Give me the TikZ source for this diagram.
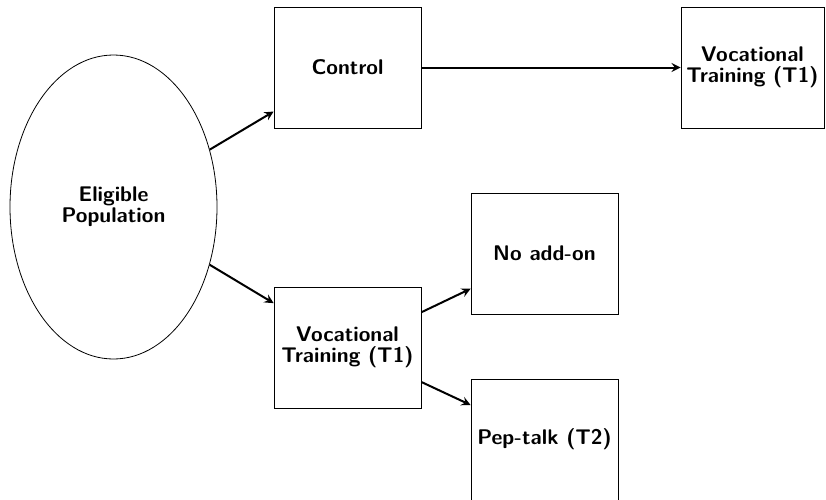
\documentclass[tikz,border=0pt]{standalone}
\usetikzlibrary{shapes.geometric}

\begin{document}
\begin{tikzpicture}[x=0.5pt, y=-0.5pt,
   every node/.style={font=\fontsize{10.6pt}{10.5pt}\selectfont\sffamily\bfseries, align=center},
   group/.style={draw, rectangle, minimum width=73.5pt, minimum height=60.5pt, inner sep=2pt},
   pop/.style={draw, ellipse, minimum width=103.5pt, minimum height=152pt},
   arm/.style={->, >=stealth, line width=1pt}]

\useasboundingbox (0,0) rectangle (826,499);

\node[pop] (elig) at (113.5,207) {Eligible\\Population};
\node[group] (ctrl) at (347.5,67.5) {Control};
\node[group, minimum width=71.5pt] (ctrlvt) at (752.5,67.5) {Vocational\\Training (T1)};
\node[group] (vt) at (347.5,347.5) {Vocational\\Training (T1)};
\node[group] (noadd) at (544.5,253.5) {No add-on};
\node[group] (pep) at (544.5,439.5) {Pep-talk (T2)};

\draw[arm] (elig) -- (ctrl);
\draw[arm] (elig) -- (vt);
\draw[arm] (ctrl) -- (ctrlvt);
\draw[arm] (vt) -- (noadd);
\draw[arm] (vt) -- (pep);

\end{tikzpicture}
\end{document}
